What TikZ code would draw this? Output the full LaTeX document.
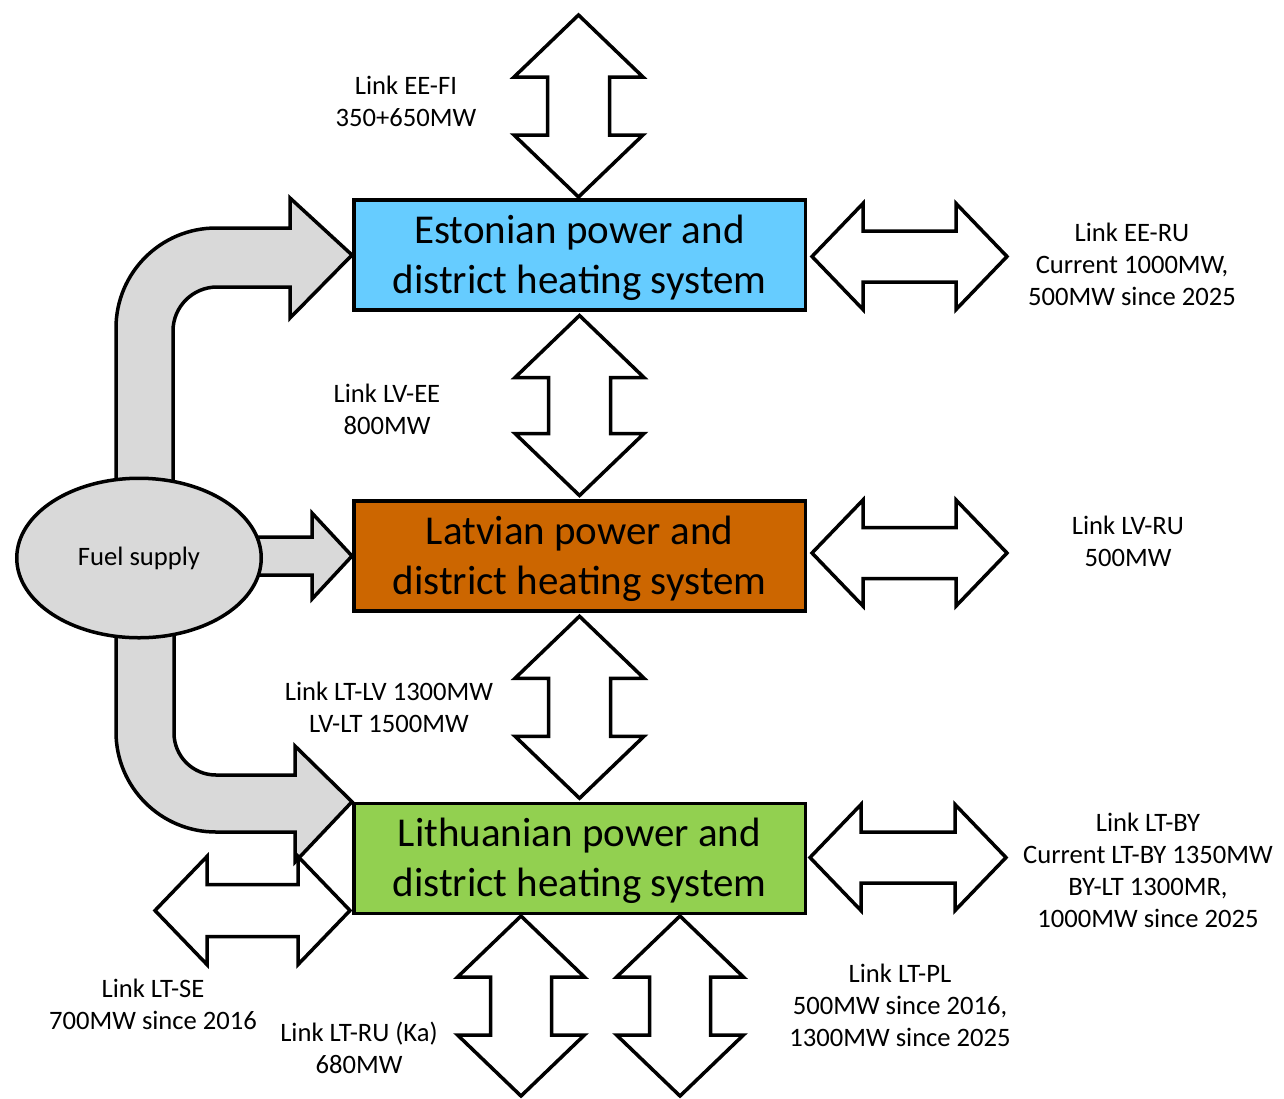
\documentclass[tikz,border=0pt]{standalone}
\usepackage{fontspec}
\setmainfont{Carlito}
\usetikzlibrary{shapes.geometric,calc}

\definecolor{eeblue}{HTML}{66CCFF}
\definecolor{lvbrown}{HTML}{CC6600}
\definecolor{ltgreen}{HTML}{92D050}
\definecolor{fuelgrey}{HTML}{D9D9D9}

\tikzset{
  sysbox/.style = {draw, line width = 1.75pt, minimum width = 225.75pt, minimum height = 55pt, align = center, inner sep = 0pt, font = \fontsize{20.5}{25}\selectfont},
  fuelnode/.style = {ellipse, draw, fill = fuelgrey, line width = 1.75pt, minimum width = 122.25pt, minimum height = 79.75pt, inner sep = 0pt, font = \fontsize{13.3}{16}\selectfont},
  linkline/.style = {draw, fill = white, line width = 1.75pt},
  fuelline/.style = {draw, fill = fuelgrey, line width = 1.75pt},
  lbl/.style = {align = center, inner sep = 0pt, font = \fontsize{13.3}{16}\selectfont}
}

\newcommand{\linkarrow}[4]{%
  \begin{scope}[shift = {#1}, rotate = #2]
    \path[linkline] (-#3,0) -- (-#3+#4,{1.04*#4}) -- (-#3+#4,{0.5*#4}) -- (#3-#4,{0.5*#4}) -- (#3-#4,{1.04*#4}) -- (#3,0)
      -- (#3-#4,{-1.04*#4}) -- (#3-#4,{-0.5*#4}) -- (-#3+#4,{-0.5*#4}) -- (-#3+#4,{-1.04*#4}) -- cycle;
  \end{scope}}

\begin{document}
\begin{tikzpicture}[x = 0.5pt, y = -0.5pt]
  \path[fill = white] (0,0) rectangle (1284,1098);

  \node[sysbox, fill = eeblue] (ee) at (579.5,255) {\rule{0pt}{17pt}Estonian power and\\district heating system};
  \node[sysbox, fill = lvbrown] (lv) at (579.5,556) {\rule{0pt}{17pt}Latvian power and\\district heating system};
  \node[sysbox, fill = ltgreen] (lt) at (579.5,858.5) {\rule{0pt}{17pt}Lithuanian power and\\district heating system};

  \path[fuelline] (116,505) -- (116,328) arc[start angle = 180, end angle = 270, radius = 100] -- (290,228) -- (290,198) -- (ee.west)
    -- (290,318) -- (290,287) -- (217,287) arc[start angle = 270, end angle = 180, radius = 44] -- (173,505) -- cycle;
  \path[fuelline] (240,537) -- (312,537) -- (312,513) -- (lv.west) -- (312,599) -- (312,575) -- (240,575) -- cycle;
  \path[fuelline] (116,610) -- (116,732) arc[start angle = 180, end angle = 90, radius = 100] -- (295,832) -- (295,862) -- (lt.north west)
    -- (295,746) -- (295,775) -- (216,775) arc[start angle = 90, end angle = 180, radius = 42] -- (174,610) -- cycle;
  \node[fuelnode] (fuel) at (139,558) {Fuel supply};

  \coordinate (eefi) at (578.5,106);
  \coordinate (eeru) at (909.5,256.5);
  \coordinate (lvru) at (909.5,553);
  \coordinate (ltby) at (908,857.5);
  \coordinate (ltse) at (252.5,910.5);
  \coordinate (ltru) at (521,1006);
  \coordinate (ltpl) at (680,1006);

  \linkarrow{(eefi)}{90}{91}{62}
  \linkarrow{($(ee.south)!0.5!(lv.north)$)}{90}{90}{62}
  \linkarrow{($(lv.south)!0.5!(lt.north)$)}{90}{91}{62}
  \linkarrow{(eeru)}{0}{97.5}{51}
  \linkarrow{(lvru)}{0}{97.5}{51}
  \linkarrow{(ltby)}{0}{98}{51}
  \linkarrow{(ltse)}{0}{97.5}{52}
  \linkarrow{(ltru)}{90}{90}{61}
  \linkarrow{(ltpl)}{90}{90}{61}

  \node[lbl] (eefitext) at (406,101) {Link EE-FI\\350+650MW};
  \node[lbl] (eerutext) at (1132,264) {Link EE-RU\\Current 1000MW,\\500MW since 2025};
  \node[lbl] (lveetext) at (387,409) {Link LV-EE\\800MW};
  \node[lbl] (lvrutext) at (1128,541) {Link LV-RU\\500MW};
  \node[lbl] (ltlvtext) at (389,707) {Link LT-LV 1300MW\\LV-LT 1500MW};
  \node[lbl] (ltbytext) at (1148,870) {Link LT-BY\\Current LT-BY 1350MW\\BY-LT 1300MR,\\1000MW since 2025};
  \node[lbl] (ltsetext) at (153,1004) {Link LT-SE\\700MW since 2016};
  \node[lbl] (ltrutext) at (359,1048) {Link LT-RU (Ka)\\680MW};
  \node[lbl] (ltpltext) at (900,1005) {Link LT-PL\\500MW since 2016,\\1300MW since 2025};
\end{tikzpicture}
\end{document}
